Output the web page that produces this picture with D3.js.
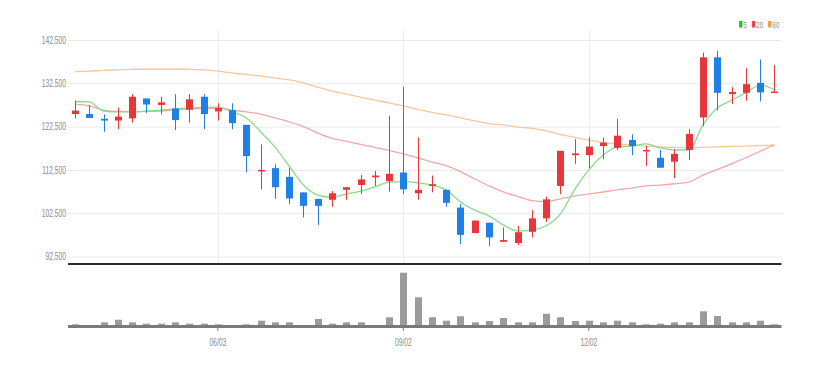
<!DOCTYPE html>
<html>
<head>
<meta charset="utf-8">
<script src="https://cdn.jsdelivr.net/npm/d3@7"></script>
<style>
  html, body { margin: 0; padding: 0; background: #fff; }
  svg { display: block; font-family: "Liberation Sans", Arial, sans-serif; }
</style>
</head>
<body>
<svg id="chart" width="823" height="367"></svg>
<script>
// weekly candles
const dates = [
  '2024-03-25','2024-04-01','2024-04-08','2024-04-15','2024-04-22','2024-04-29','2024-05-06','2024-05-13',
  '2024-05-20','2024-05-27','2024-06-03','2024-06-10','2024-06-17','2024-06-24','2024-07-01','2024-07-08',
  '2024-07-15','2024-07-22','2024-07-29','2024-08-05','2024-08-12','2024-08-19','2024-08-26','2024-09-02',
  '2024-09-09','2024-09-16','2024-09-23','2024-09-30','2024-10-07','2024-10-14','2024-10-21','2024-10-28',
  '2024-11-04','2024-11-11','2024-11-18','2024-11-25','2024-12-02','2024-12-09','2024-12-16','2024-12-23',
  '2024-12-30','2025-01-06','2025-01-13','2025-01-20','2025-01-27','2025-02-03','2025-02-10','2025-02-17',
  '2025-02-24','2025-03-03'
];
const open = [
  125400,125400,124300,123900,124400,129000,127500,126700,126400,129400,
  126000,126300,122900,112300,112900,110900,107300,105800,105600,107900,
  109000,110800,109900,111900,107100,108800,107900,103800,97900,100300,
  95900,95600,98200,101300,108800,115900,115900,118000,117600,119400,
  116800,115300,114400,117100,124600,138500,130000,130300,132600,130300
];
const high = [
  128500,127500,125300,126900,130000,129000,129400,130000,130000,130000,
  127900,127900,122900,118400,113800,112900,107300,105800,107600,108500,
  111300,112300,125000,131700,120000,111200,107900,104600,100800,100300,
  99200,99600,103200,106300,116900,119600,120000,120000,124300,120700,
  118000,117100,117300,121900,139600,140000,131600,136000,138000,136700
];
const low = [
  124400,124500,121300,121900,123400,125600,125300,121700,123400,121900,
  123900,121900,111900,108000,105800,104600,101500,99800,104000,105600,
  106900,108800,107500,106900,105600,107300,104000,95400,97900,94900,
  95900,95200,96900,100500,106900,113900,112900,115000,117100,115900,
  113400,113000,110600,114800,122600,126200,127700,128500,128300,130300
];
const close = [
  126200,124500,123900,124800,129400,127600,128100,124000,128800,125400,
  126800,123300,115700,112500,108500,105900,104200,104200,107100,108500,
  110300,111200,111600,108000,107900,109200,104900,97500,100800,96900,
  96300,98100,101300,105700,116900,116300,117900,118800,120400,118000,
  117100,113000,116200,120800,138500,130300,130500,132300,130400,130600
];
// volume (thousand shares)
const volume = [
  27,13,47,73,47,33,33,47,33,33,
  27,13,27,63,47,47,13,80,33,47,
  47,13,97,543,297,97,63,107,47,60,
  90,47,47,133,97,60,63,47,63,47,
  27,33,47,47,157,110,47,47,63,27
];
// moving averages
const ma5 = [
  128300,128200,126100,125900,125900,126100,126300,126600,126800,126900,
  127000,125900,124500,121300,117800,113400,109000,106700,106200,106900,
  107600,108600,109700,109800,109500,109000,107900,105100,103200,101900,
  99800,98400,98600,99600,102300,107900,112500,115900,117800,118000,
  118500,117600,117100,117100,122900,126800,128600,130300,132100,131000
];
const ma20 = [
  127700,127300,126300,126000,125900,126000,126100,126300,126600,126700,
  126800,126300,125900,125400,124500,123600,122500,121000,119800,119100,
  118400,117700,117000,116200,115300,114300,113500,112100,110400,108800,
  107400,106400,105400,105200,105800,106500,106900,107400,107900,108300,
  108800,109000,109300,109700,111300,112600,113900,115300,116800,118300
];
const ma60 = [
  135200,135300,135500,135600,135700,135800,135800,135800,135700,135600,
  135300,134900,134500,134200,133700,133300,132600,131600,130700,130000,
  129300,128600,128000,127300,126500,125800,125200,124500,123800,123200,
  122900,122400,122100,121500,120700,120000,119400,118800,118500,118300,
  118000,117800,117700,117600,117700,117800,117900,118000,118100,118300
];
const priceTicks = [92500, 102500, 112500, 122500, 132500, 142500];
const tickDates = ['2024-06-03', '2024-09-02', '2024-12-02'];
const tickLabels = ['06/03', '09/02', '12/02'];
const maLabels = ['5', '20', '60'];

const UP = '#e8363a', DOWN = '#1f80e6';
const maColors = ['#8bd98b', '#f4a7a7', '#f8c79c'];
const legendColors = ['#2fbf2f', '#ee4444', '#f0a040'];
const SQUEEZE = 0.67;

const svg = d3.select('#chart');
const left = 68, right = 781.5;
const priceTop = 40, priceBottom = 256.5;
const volTop = 272, volBase = 327;

const x = d3.scaleBand().domain(dates).range([left, right]).padding(0);
const cx = d => x(d) + x.bandwidth() / 2;
const bodyW = Math.round(x.bandwidth() * 0.5);

const y = d3.scaleLinear().domain([92500, 142500]).range([priceBottom, priceTop]);
const yv = d3.scaleLinear().domain([0, 550]).range([volBase, volTop]);

svg.append('rect').attr('width', 823).attr('height', 367).attr('fill', '#fff');

// grid
svg.append('g').selectAll('line').data(priceTicks).enter().append('line')
  .attr('x1', left).attr('x2', right)
  .attr('y1', d => y(d) + 0.5).attr('y2', d => y(d) + 0.5)
  .attr('stroke', '#e9e9e9');
svg.append('g').selectAll('line').data(tickDates).enter().append('line')
  .attr('x1', d => Math.round(cx(d)) + 0.5).attr('x2', d => Math.round(cx(d)) + 0.5)
  .attr('y1', 30).attr('y2', 264)
  .attr('stroke', '#ececec');

// y labels
const yAxis = svg.append('g')
  .attr('transform', `translate(${left},0)`)
  .call(d3.axisLeft(y).tickValues(priceTicks).tickFormat(d3.format(',')).tickSize(0).tickPadding(3));
yAxis.select('.domain').remove();
yAxis.selectAll('text')
  .attr('fill', '#8a8a8a').attr('font-size', 10).attr('font-family', '"Liberation Sans", Arial, sans-serif')
  .attr('transform', `scale(${SQUEEZE},1)`);

// moving averages
const line = vals => d3.line().x((v, i) => cx(dates[i])).y(v => y(v)).curve(d3.curveMonotoneX)(vals);
[ma60, ma20, ma5].forEach((vals, k) => {
  svg.append('path').attr('d', line(vals))
    .attr('fill', 'none').attr('stroke', maColors[2 - k]).attr('stroke-width', 1.3);
});

// candles
const candles = svg.append('g').selectAll('g').data(dates).enter().append('g');
candles.append('line')
  .attr('x1', d => Math.round(cx(d)) + 0.5).attr('x2', d => Math.round(cx(d)) + 0.5)
  .attr('y1', (d, i) => y(high[i])).attr('y2', (d, i) => y(low[i]))
  .attr('stroke', (d, i) => close[i] >= open[i] ? UP : DOWN);
candles.append('rect')
  .attr('x', d => Math.round(cx(d)) + 0.5 - bodyW / 2)
  .attr('y', (d, i) => y(Math.max(open[i], close[i])))
  .attr('width', bodyW)
  .attr('height', (d, i) => Math.max(1.5, Math.abs(y(open[i]) - y(close[i]))))
  .attr('fill', (d, i) => close[i] >= open[i] ? UP : DOWN);

// pane separator
svg.append('line').attr('x1', left).attr('x2', right).attr('y1', 264).attr('y2', 264)
  .attr('stroke', '#2a2a2a').attr('stroke-width', 2);

// volume
svg.append('g').selectAll('rect').data(dates).enter().append('rect')
  .attr('x', d => Math.round(cx(d)) + 0.5 - bodyW / 2)
  .attr('y', (d, i) => yv(volume[i]))
  .attr('width', bodyW)
  .attr('height', (d, i) => volBase - yv(volume[i]))
  .attr('fill', '#9b9b9b');
svg.append('line').attr('x1', left).attr('x2', right).attr('y1', volBase - 0.5).attr('y2', volBase - 0.5)
  .attr('stroke', '#7a7a7a').attr('stroke-width', 3);

const xAxis = svg.append('g')
  .attr('transform', `translate(0,${volBase})`)
  .call(d3.axisBottom(x).tickValues(tickDates).tickFormat((d, i) => tickLabels[i]).tickSize(4).tickPadding(8));
xAxis.select('.domain').remove();
xAxis.selectAll('.tick line').attr('stroke', '#777');
xAxis.selectAll('text')
  .attr('fill', '#8a8a8a').attr('font-size', 10).attr('font-family', '"Liberation Sans", Arial, sans-serif')
  .attr('transform', `scale(${SQUEEZE},1)`);

// legend
const lg = svg.append('g').attr('transform', 'translate(739,0)');
let cursor = 0;
maLabels.forEach((lab, i) => {
  lg.append('rect').attr('x', cursor).attr('y', 21).attr('width', 3.5).attr('height', 6.5).attr('fill', legendColors[i]);
  const t = lg.append('text').attr('x', (cursor + 4.5) / SQUEEZE).attr('y', 28)
    .attr('transform', `scale(${SQUEEZE},1)`)
    .attr('font-size', 9).attr('fill', '#8a8a8a').text(lab);
  cursor += 4.5 + t.node().getComputedTextLength() * SQUEEZE + 5;
});
</script>
</body>
</html>
